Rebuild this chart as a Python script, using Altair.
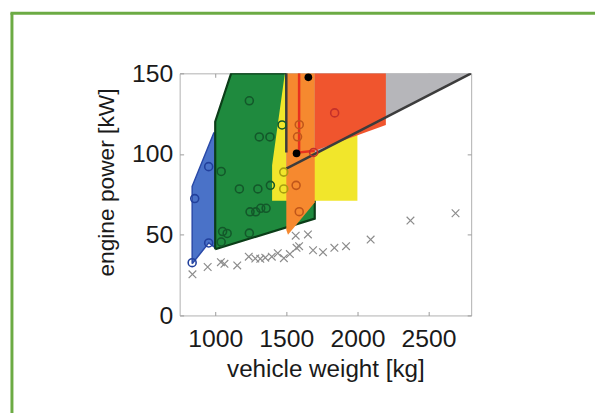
import altair as alt
import pandas as pd

# ---- polygon vertices (vehicle weight kg, engine power kW) ----
blue_px = [838, 838, 990, 1000, 1000, 955]
blue_py = [32, 80, 113, 113, 42, 45]
green_px = [1000, 1000, 1112, 1500, 1500, 1700, 1700]
green_py = [41, 120, 150, 150, 100, 73, 60]
yellow_px = [1490, 1400, 1400, 2000, 2000, 1500]
yellow_py = [150, 93, 71, 71, 118, 118]
gray_px = [1500, 2800, 1500]
gray_py = [91, 150, 150]
orange_px = [1500, 1700, 1700, 1512, 1500]
orange_py = [150, 150, 70, 50, 53]
red_px = [1700, 1700, 2200, 2200]
red_py = [150, 102, 118, 150]

# ---- line paths ----
redline_x = [1590, 1590, 1700]
redline_y = [150, 101, 102]
darkv_x = [1500, 1500]
darkv_y = [150, 101]
diag_x = [1500, 2800]
diag_y = [91, 150]

# ---- circles ----
blue_cx = [838, 856, 954, 954]
blue_cy = [32.7, 72.4, 92.2, 44.9]
green_cx = [1240, 1310, 1385, 1470, 1042, 1170, 1300, 1388, 1245, 1285, 1320, 1358, 1052, 1084, 1042, 1240]
green_cy = [133, 110.6, 110.6, 118, 89.2, 78.4, 78.4, 80.6, 64.2, 64.2, 66.4, 66.4, 52, 50.8, 45.5, 51]
yellow_cx = [1482, 1482]
yellow_cy = [88.8, 78.4]
orange_cx = [1591, 1579, 1569, 1591]
orange_cy = [118.2, 110.7, 80.6, 64.3]
red_cx = [1840, 1692]
red_cy = [125.5, 101]
black_cx = [1572, 1655]
black_cy = [100.4, 147.5]

# ---- crosses ----
cross_x = [840, 947, 1040, 1065, 1155, 1236, 1282, 1317, 1352, 1398, 1440, 1483, 1525,
           1566, 1652, 1572, 1590, 1688, 1758, 1838, 1920, 2093, 2373, 2690]
cross_y = [25.5, 30, 33, 32, 31, 36.4, 35.3, 35.1, 35.8, 36.4, 38.6, 35.5, 38,
           49.4, 50.2, 41.9, 42.9, 40.4, 39.2, 41.9, 42.9, 47, 58.8, 63.3]

x_ticks = [1000, 1500, 2000, 2500]
y_ticks = [0, 50, 100, 150]

XS = alt.Scale(domain=[750, 2800], nice=False, zero=False)
YS = alt.Scale(domain=[0, 150], nice=False, zero=False)
FONT = "Liberation Sans"


def xenc(axis=None):
    return alt.X("x:Q", scale=XS, axis=axis)


def yenc(axis=None):
    return alt.Y("y:Q", scale=YS, axis=axis)


def poly(xs, ys, fill, stroke=None, sw=0.0):
    df = pd.DataFrame({"x": xs + [xs[0]], "y": ys + [ys[0]], "o": list(range(len(xs) + 1))})
    return alt.Chart(df).mark_line(
        fill=fill, stroke=stroke if stroke else fill, strokeWidth=sw if stroke else 0.01,
        clip=True, strokeJoin="miter"
    ).encode(x=xenc(), y=yenc(), order="o:Q")


def path(xs, ys, color, sw):
    df = pd.DataFrame({"x": xs, "y": ys, "o": list(range(len(xs)))})
    return alt.Chart(df).mark_line(stroke=color, strokeWidth=sw, clip=True).encode(
        x=xenc(), y=yenc(), order="o:Q")


layers = [
    poly(blue_px, blue_py, "#4a72c8", "#2a4aa8", 1.5),
    poly(green_px, green_py, "#1f8a3e", "#0b3d18", 2.2),
    poly(yellow_px, yellow_py, "#f1e62b"),
    poly(gray_px, gray_py, "#b6b6ba"),
    poly(orange_px, orange_py, "#f6892f"),
    poly(red_px, red_py, "#f0552e"),
    path(redline_x, redline_y, "#e8321e", 2.5),
    path(darkv_x, darkv_y, "#3c3c3c", 2.5),
    path(diag_x, diag_y, "#3c3c3c", 2.5),
]

main_x_axis = alt.Axis(values=x_ticks, format="d", ticks=False, domain=False, grid=False,
                       labelPadding=11, labelFontSize=25, title="vehicle weight [kg]",
                       titleFontSize=24.5, titlePadding=7, orient="bottom")
main_y_axis = alt.Axis(values=y_ticks, format="d", ticks=False, domain=False, grid=False,
                       labelPadding=7, labelFontSize=25, title="engine power [kW]",
                       titleFontSize=23, titlePadding=13, titleY=110, orient="left")

cross_df = pd.DataFrame({"x": cross_x, "y": cross_y})
layers.append(
    alt.Chart(cross_df).mark_point(shape="M-1,-1L1,1M-1,1L1,-1", size=60, filled=False,
                                   stroke="#8c8c8c", strokeWidth=1.2, opacity=1)
    .encode(x=xenc(main_x_axis), y=yenc(main_y_axis))
)

groups = (["blue"] * len(blue_cx) + ["green"] * len(green_cx) + ["yellow"] * len(yellow_cx)
          + ["orange"] * len(orange_cx) + ["red"] * len(red_cx))
circ_df = pd.DataFrame({
    "x": blue_cx + green_cx + yellow_cx + orange_cx + red_cx,
    "y": blue_cy + green_cy + yellow_cy + orange_cy + red_cy,
    "g": groups,
})
tick_top = alt.Axis(values=x_ticks, orient="top", labels=False, domain=False,
                    grid=False, tickSize=4, offset=-4, tickColor="#9a9a9a", title=None)
tick_right = alt.Axis(values=y_ticks, orient="right", labels=False, domain=False,
                      grid=False, tickSize=4, offset=-4, tickColor="#9a9a9a", title=None)
layers.append(
    alt.Chart(circ_df).mark_point(shape="circle", filled=False, size=65, strokeWidth=1.6, opacity=1)
    .encode(x=xenc(tick_top), y=yenc(tick_right),
            color=alt.Color("g:N", scale=alt.Scale(
                domain=["blue", "green", "yellow", "orange", "red"],
                range=["#22409c", "#13582a", "#a89f10", "#c0561a", "#c4302a"]), legend=None))
)

tick_bottom = alt.Axis(values=x_ticks, orient="bottom", labels=False, domain=False,
                       grid=False, tickSize=4, offset=-4, tickColor="#9a9a9a", title=None)
tick_left = alt.Axis(values=y_ticks, orient="left", labels=False, domain=False,
                     grid=False, tickSize=4, offset=-4, tickColor="#9a9a9a", title=None)
black_df = pd.DataFrame({"x": black_cx, "y": black_cy})
layers.append(
    alt.Chart(black_df).mark_circle(size=60, color="#000000", opacity=1)
    .encode(x=xenc(tick_bottom), y=yenc(tick_left))
)

# green page frame (left and top edges)
frame_df = pd.DataFrame({"k": [0]})
layers.append(alt.Chart(frame_df).mark_rule(color="#6cab44", strokeWidth=3).encode(
    x=alt.value(-169.7), y=alt.value(-61), y2=alt.value(400)))
layers.append(alt.Chart(frame_df).mark_rule(color="#6cab44", strokeWidth=3).encode(
    x=alt.value(-171.2), x2=alt.value(430), y=alt.value(-60.7)))

chart = alt.layer(*layers).resolve_axis(x="independent", y="independent").properties(
    width=295, height=245,
    autosize=alt.AutoSizeParams(type="none"),
    padding={"left": 173.7, "top": 63.7, "right": 125.3, "bottom": 96.3},
    background="white",
).configure_view(stroke="#b0b0b0", strokeWidth=1).configure_axis(
    labelFont=FONT, labelColor="#1a1a1a",
    titleFont=FONT, titleFontWeight="normal", titleColor="#1a1a1a",
)

chart.save("out.html", embed_options={"renderer": "svg", "actions": False})
